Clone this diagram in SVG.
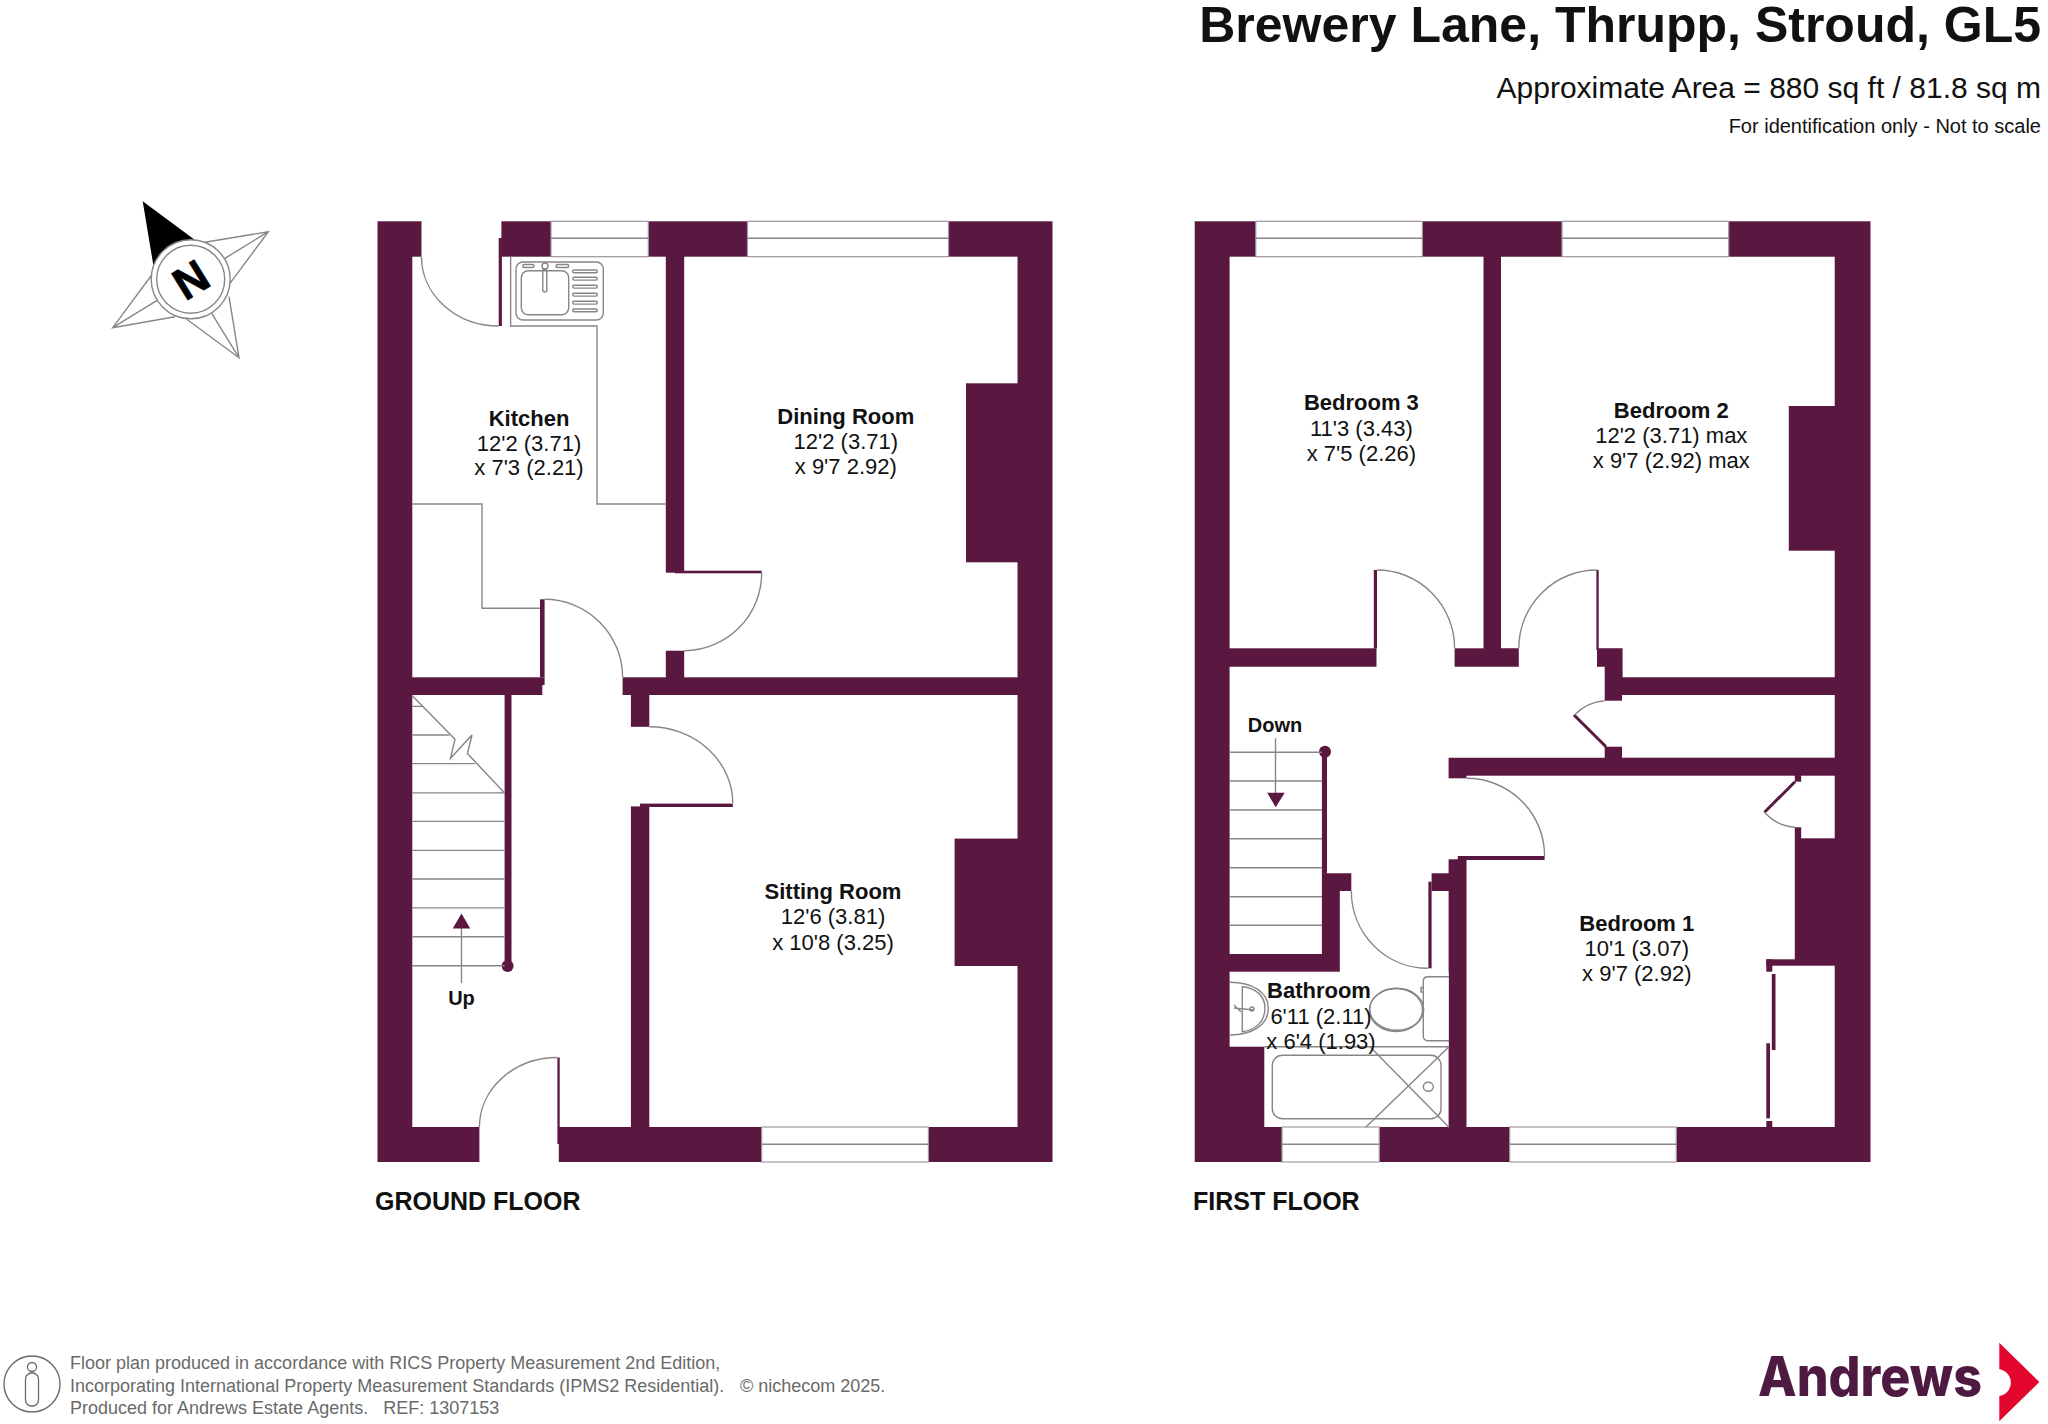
<svg xmlns="http://www.w3.org/2000/svg" width="2048" height="1424" viewBox="0 0 2048 1424">
<style>
text{font-family:"Liberation Sans",Arial,sans-serif;fill:#111}
.w{fill:#5a1740}.r{fill:#fff}
.l{fill:none;stroke:#8a8488;stroke-width:1.4}
.n{text-anchor:middle;font-size:22px}
.b{font-weight:bold}
.f{font-size:18px;fill:#6a6a6a;white-space:pre}
.win{fill:#fff;stroke:#a09a9e;stroke-width:1.2}
</style>
<rect width="2048" height="1424" fill="#fff"/>

<g id="title">
<text x="2041" y="42" text-anchor="end" class="b" font-size="50">Brewery Lane, Thrupp, Stroud, GL5</text>
<text x="2041" y="98" text-anchor="end" font-size="30">Approximate Area = 880 sq ft / 81.8 sq m</text>
<text x="2041" y="133" text-anchor="end" font-size="20">For identification only - Not to scale</text>
</g>

<g id="compass">
<polygon points="142.7,201.3 195,240 170,247 153.3,265" fill="#000"/>
<g class="l" stroke-width="1.2">
<path d="M205,242.3L268.3,231.7L230,283.3M225,258.3L268.3,231.7"/>
<path d="M229,296.7L239,357.7L186.7,319.3M211.7,313.3L239,357.7"/>
<path d="M175,316.7L112.7,327.7L151.7,275M156.7,300.7L112.7,327.7"/>
</g>
<circle cx="190.7" cy="279.3" r="39.5" class="l" style="fill:#fff"/>
<circle cx="190.7" cy="279.3" r="34" class="l"/>
<text x="190.7" y="279.3" transform="rotate(-31.6 190.7 279.3) translate(0 16)" text-anchor="middle" class="b" font-size="45" style="fill:#000;stroke:#000;stroke-width:.8">N</text>
</g>

<g id="ground-floor">
<rect class="w" x="377.5" y="221.3" width="675" height="940.7"/>
<g id="gf-rooms">
<rect class="r" x="412.3" y="256.7" width="253.5" height="420.6"/>
<rect class="r" x="421.5" y="221" width="79.9" height="36"/>
<rect class="r" x="684.2" y="256.7" width="333.3" height="420.6"/>
<rect class="r" x="665" y="572.7" width="20" height="78"/>
<rect class="r" x="412.3" y="695" width="218.6" height="432"/>
<polygon class="r" points="544.6,676 622.6,676 622.6,696 542.3,696 542.3,685 544.6,685"/>
<rect class="r" x="479.4" y="1126" width="79.4" height="36"/>
<rect class="r" x="649.3" y="695" width="368.2" height="432"/>
<rect class="r" x="630" y="726.8" width="20" height="79.6"/>
</g>
<g id="gf-walls">
<rect class="w" x="966" y="383.3" width="60" height="179"/>
<rect class="w" x="954.6" y="838.6" width="70" height="127.4"/>
<rect class="w" x="498.7" y="238" width="3.2" height="88"/>
<rect class="w" x="540" y="599.3" width="4.6" height="78"/>
<rect class="w" x="675" y="570.7" width="86.7" height="2.6"/>
<rect class="w" x="640" y="803.6" width="92.8" height="3.4"/>
<rect class="w" x="557.4" y="1057.5" width="2.3" height="86.5"/>
<rect class="w" x="504.6" y="695" width="6.9" height="270"/>
<circle class="w" cx="507.6" cy="966" r="6"/>
</g>
<g id="gf-windows">
<rect class="win" x="551" y="221.3" width="97.3" height="35.4"/><path class="l" d="M551,238.3H648.3"/>
<rect class="win" x="747.5" y="221.3" width="201" height="35.4"/><path class="l" d="M747.5,238.3H948.5"/>
<rect class="win" x="761.7" y="1127" width="166.7" height="35"/><path class="l" d="M761.7,1144.3H928.4"/>
</g>
<g id="gf-doors" class="l">
<path d="M421.5,256.7A77.2,69.3 0 0 0 498.7,326"/>
<path d="M761.7,572.7A77.5,78 0 0 1 684.2,650.7"/>
<path d="M544.6,599.3A78,78 0 0 1 622.6,677.3"/>
<path d="M649.3,726.8A83.5,76.8 0 0 1 732.8,803.6"/>
<path d="M479.4,1127A78,69.5 0 0 1 557.4,1057.5"/>
</g>
<g id="gf-kitchen-fittings" class="l">
<path d="M510.6,256.7V326H597V504H665.8"/>
<path d="M412.3,504H482V608.3H540"/>
<rect x="516" y="262" width="87.3" height="58" rx="7"/>
<rect x="521.3" y="270.7" width="47.4" height="44" rx="7"/>
<circle cx="545" cy="266" r="3"/>
<rect x="542.8" y="269" width="4" height="23" rx="2"/>
<rect x="522.7" y="264.5" width="11.3" height="3" rx="1.5"/>
<rect x="556" y="264.5" width="12.7" height="3" rx="1.5"/>
<rect x="572.7" y="270" width="24.6" height="2.8" rx="1.4"/>
<rect x="572.7" y="277.3" width="24.6" height="2.8" rx="1.4"/>
<rect x="572.7" y="285.3" width="24.6" height="2.8" rx="1.4"/>
<rect x="572.7" y="293.3" width="24.6" height="2.8" rx="1.4"/>
<rect x="572.7" y="301.3" width="24.6" height="2.8" rx="1.4"/>
<rect x="572.7" y="309" width="24.6" height="2.8" rx="1.4"/>
</g>
<g id="gf-stairs">
<path class="l" d="M412.3,706.4H423M412.3,735H449.5M412.3,763.6H474.8M412.3,792.9H504.6M412.3,821.4H504.6M412.3,850.4H504.6M412.3,879H504.6M412.3,907.9H504.6M412.3,936.8H504.6M412.3,965.7H504.6"/>
<path class="l" d="M412.3,695.7L455,739.3L450.5,758.2L472,735L467.4,753.6L504.6,792.9"/>
<path class="l" d="M461.5,983.2V928"/>
<polygon class="w" points="461.5,913.6 470.2,928.6 452.7,928.6"/>
<text x="461.5" y="1004.6" class="b" text-anchor="middle" font-size="20">Up</text>
</g>
<g id="kitchen"><text class="n b" x="529" y="426">Kitchen</text><text class="n" x="529" y="450.7">12'2 (3.71)</text><text class="n" x="529" y="475.3">x 7'3 (2.21)</text></g>
<g id="dining-room"><text class="n b" x="845.8" y="424">Dining Room</text><text class="n" x="845.8" y="449.3">12'2 (3.71)</text><text class="n" x="845.8" y="474">x 9'7 2.92)</text></g>
<g id="sitting-room"><text class="n b" x="833" y="899.3">Sitting Room</text><text class="n" x="833" y="924.3">12'6 (3.81)</text><text class="n" x="833" y="950">x 10'8 (3.25)</text></g>
<text x="375" y="1210" class="b" font-size="25">GROUND FLOOR</text>
</g>

<g id="first-floor">
<rect class="w" x="1194.7" y="221.3" width="675.8" height="940.7"/>
<g id="ff-rooms">
<rect class="r" x="1229.6" y="256.7" width="253.9" height="391.6"/>
<polygon class="r" points="1501,256.7 1834.7,256.7 1834.7,677.3 1622.6,677.3 1622.6,648.3 1501,648.3"/>
<rect class="r" x="1376.5" y="648" width="78.1" height="19"/>
<rect class="r" x="1518.8" y="648" width="78.2" height="19"/>
<polygon class="r" points="1229.6,666.7 1604.7,666.7 1604.7,757.7 1448.6,757.7 1448.6,873.3 1431.6,873.3 1431.6,891 1351.3,891 1351.3,873.3 1229.6,873.3"/>
<rect class="r" x="1229.6" y="873" width="92.3" height="81"/>
<rect class="r" x="1622" y="695" width="212.7" height="62.7"/>
<rect class="r" x="1604" y="700.7" width="19.5" height="46"/>
<rect class="r" x="1339.8" y="891" width="108.8" height="156"/>
<rect class="r" x="1229.6" y="971.7" width="219" height="75"/>
<rect class="r" x="1264.3" y="1046" width="184.3" height="81"/>
<rect class="r" x="1466.5" y="775.7" width="328.3" height="351.3"/>
<rect class="r" x="1794" y="965.7" width="40.7" height="161.3"/>
<rect class="r" x="1801.2" y="775.7" width="33.5" height="62.6"/>
<rect class="r" x="1794" y="781.7" width="8" height="45.6"/>
<rect class="r" x="1448" y="778.3" width="19" height="81"/>
</g>
<g id="ff-walls">
<rect class="w" x="1788.8" y="406" width="52" height="144.7"/>
<rect class="w" x="1766.3" y="959.3" width="28.7" height="6.4"/>
<rect class="w" x="1766.3" y="959.3" width="6" height="12.4"/>
<rect class="w" x="1771.8" y="974" width="3.7" height="76"/>
<rect class="w" x="1766.3" y="1043.3" width="3.7" height="75"/>
<rect class="w" x="1766.3" y="1121" width="6" height="6"/>
<rect class="w" x="1373.8" y="570" width="3.2" height="78.5"/>
<rect class="w" x="1596.4" y="570" width="2.3" height="80"/>
<rect class="w" x="1428.4" y="881.7" width="3.2" height="86.6"/>
<rect class="w" x="1457.8" y="856" width="86.8" height="4"/>
<rect class="w" x="1321.9" y="751.7" width="5.1" height="122"/>
<circle class="w" cx="1325" cy="751.7" r="6"/>
<path d="M1574,715L1606,746.7M1795,781.7L1764.5,812.3" fill="none" stroke="#5a1740" stroke-width="3"/>
</g>
<g id="ff-windows">
<rect class="win" x="1255.8" y="221.3" width="166.6" height="35.4"/><path class="l" d="M1255.8,238.3H1422.4"/>
<rect class="win" x="1562" y="221.3" width="166.7" height="35.4"/><path class="l" d="M1562,238.3H1728.7"/>
<rect class="win" x="1282" y="1127" width="97.3" height="35"/><path class="l" d="M1282,1144.3H1379.3"/>
<rect class="win" x="1509.7" y="1127" width="166.6" height="35"/><path class="l" d="M1509.7,1144.3H1676.3"/>
</g>
<g id="ff-doors" class="l">
<path d="M1377,570A77.6,78.3 0 0 1 1454.6,648.3"/>
<path d="M1597,570A78.2,78.3 0 0 0 1518.8,648.3"/>
<path d="M1466.5,778.3A78,77.7 0 0 1 1544.6,856"/>
<path d="M1351.3,891A76.7,77.3 0 0 0 1428,968.3"/>
<path d="M1604.7,700.7A46,46 0 0 0 1574.5,715"/>
<path d="M1764.5,812.3A45,45 0 0 0 1795,827.3"/>
</g>
<g id="ff-stairs">
<path class="l" d="M1229.6,752.3H1321.9M1229.6,781H1321.9M1229.6,810H1321.9M1229.6,838.7H1321.9M1229.6,867.7H1321.9M1229.6,896.7H1321.9M1229.6,925.3H1321.9"/>
<path class="l" d="M1275.5,738.3V793"/>
<polygon class="w" points="1267.2,792.7 1284.7,792.7 1275.7,807.3"/>
<text x="1275" y="731.7" class="b" text-anchor="middle" font-size="20">Down</text>
</g>
<g id="ff-bathroom-fittings" class="l">
<path d="M1264.3,1046.7H1449"/>
<rect x="1272.3" y="1055.3" width="168.7" height="63.4" rx="10"/>
<ellipse cx="1428.3" cy="1086.7" rx="5" ry="4.5"/>
<path d="M1370,1046.7L1449,1127.3M1449,1046.7L1365.7,1127.3"/>
<path d="M1230,982.3C1252,982.3 1268.3,992 1268.3,1008.3C1268.3,1025 1252,1035 1230,1035"/>
<path d="M1242.3,986.7C1256,988 1265,996 1265,1008.3C1265,1021 1256,1030 1242.3,1031.7Z"/>
<path d="M1234,1008L1254,1010M1234,1005L1241,1012"/>
<circle cx="1252" cy="1009" r="2"/>
<ellipse cx="1396.7" cy="1009.3" rx="27" ry="21"/>
<ellipse cx="1396" cy="1010" rx="26.5" ry="21.5"/>
<path d="M1449,976.7H1428Q1423.3,976.7 1423.3,981V1036Q1423.3,1040.7 1428,1040.7H1449"/>
<path d="M1423.3,987.5H1421V992H1423.3"/>
</g>
<g id="bedroom-3"><text class="n b" x="1361.4" y="410">Bedroom 3</text><text class="n" x="1361.4" y="436">11'3 (3.43)</text><text class="n" x="1361.4" y="461">x 7'5 (2.26)</text></g>
<g id="bedroom-2"><text class="n b" x="1671.3" y="418">Bedroom 2</text><text class="n" x="1671.3" y="443">12'2 (3.71) max</text><text class="n" x="1671.3" y="468">x 9'7 (2.92) max</text></g>
<g id="bedroom-1"><text class="n b" x="1636.8" y="930.7">Bedroom 1</text><text class="n" x="1636.8" y="956">10'1 (3.07)</text><text class="n" x="1636.8" y="980.7">x 9'7 (2.92)</text></g>
<g id="bathroom"><text class="n b" x="1319" y="998.3">Bathroom</text><text class="n" x="1321" y="1024">6'11 (2.11)</text><text class="n" x="1321" y="1048.7">x 6'4 (1.93)</text></g>
<text x="1193" y="1209.5" class="b" font-size="25">FIRST FLOOR</text>
</g>

<g id="footer">
<ellipse cx="32" cy="1384" rx="28" ry="28" fill="none" stroke="#6a6a6a" stroke-width="1.4"/>
<circle cx="32" cy="1367" r="4.5" fill="none" stroke="#6a6a6a" stroke-width="1.3"/>
<rect x="25.5" y="1373" width="13" height="33" rx="6" fill="none" stroke="#6a6a6a" stroke-width="1.3"/>
<text class="f" x="70" y="1369">Floor plan produced in accordance with RICS Property Measurement 2nd Edition,</text>
<text class="f" x="70" y="1392">Incorporating International Property Measurement Standards (IPMS2 Residential).</text>
<text class="f" x="740" y="1392">© nichecom 2025.</text>
<text class="f" x="70" y="1414">Produced for Andrews Estate Agents.   REF: 1307153</text>
</g>

<g id="logo">
<text x="1758" y="1396" font-size="55" font-weight="800" textLength="224" lengthAdjust="spacingAndGlyphs" style="font-family:Inter,Lato,'Open Sans',sans-serif;fill:#4f1a42">Andrews</text>
<path d="M1999.3,1342.7L2039.3,1382L1999.3,1421.3V1396A13.5,13.5 0 0 0 1999.3,1369.3Z" fill="#e3072f"/>
</g>
</svg>
